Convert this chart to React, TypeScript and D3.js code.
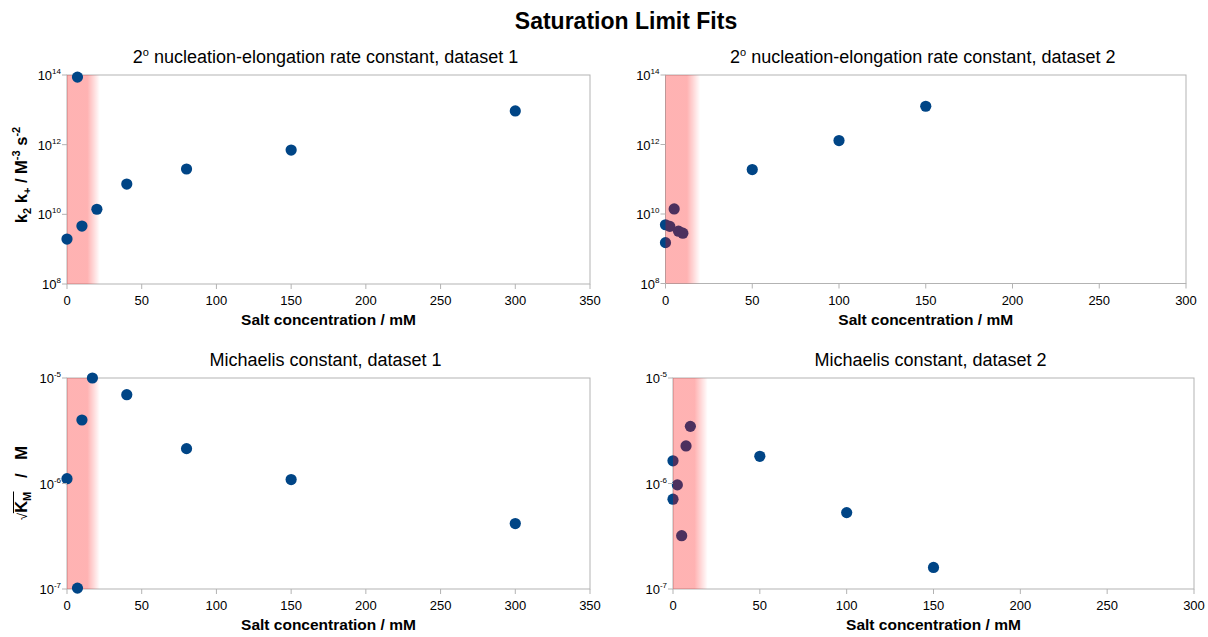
import React from "react";
import * as d3 from "d3";

const chartTitle = "Saturation Limit Fits";
const xAxisLabel = "Salt concentration / mM";

// Panel 1: rate constant, dataset 1
const salt1Rate = [0, 7, 10, 20, 40, 80, 150, 300];
const rate1 = [1.95e9, 8.7e13, 4.6e9, 1.4e10, 7.4e10, 2.0e11, 7.0e11, 9.3e12];
// Panel 2: rate constant, dataset 2
const salt2Rate = [0, 0, 2.5, 5, 7.5, 10, 50, 100, 150];
const rate2 = [4.9e9, 1.5e9, 4.4e9, 1.4e10, 3.2e9, 2.8e9, 1.9e11, 1.3e12, 1.26e13];
// Panel 3: Michaelis constant, dataset 1
const salt1Km = [0, 7, 10, 17, 40, 80, 150, 300];
const km1 = [1.11e-6, 1.02e-7, 4.0e-6, 1.0e-5, 6.95e-6, 2.14e-6, 1.09e-6, 4.17e-7];
// Panel 4: Michaelis constant, dataset 2
const salt2Km = [0, 0, 2.5, 5, 7.5, 10, 50, 100, 150];
const km2 = [1.64e-6, 7.1e-7, 9.7e-7, 3.2e-7, 2.27e-6, 3.48e-6, 1.81e-6, 5.3e-7, 1.6e-7];

const xTicks1 = [0, 50, 100, 150, 200, 250, 300, 350];
const xTicks2 = [0, 50, 100, 150, 200, 250, 300];
const yTicksRate = [1e8, 1e10, 1e12, 1e14];
const yTicksKm = [1e-7, 1e-6, 1e-5];

const FONT = "'Liberation Sans', Arial, sans-serif";
const POINT = "#004586";
const GRID = "#b3b3b3";

type Panel = {
  title: string;
  dataset: string;
  xs: number[];
  ys: number[];
  xDomain: [number, number];
  xTicks: number[];
  yDomain: [number, number];
  yTicks: number[];
  band: number;
  bandOnTop: boolean;
  box: { l: number; r: number; t: number; b: number };
  yLabel: "rate" | "km" | null;
};

const panels: Panel[] = [
  { title: "nucleation-elongation rate constant, dataset 1", dataset: "rate", xs: salt1Rate, ys: rate1, xDomain: [0, 350], xTicks: xTicks1, yDomain: [1e8, 1e14], yTicks: yTicksRate, band: 22, bandOnTop: false, box: { l: 67, r: 590, t: 75, b: 284 }, yLabel: "rate" },
  { title: "nucleation-elongation rate constant, dataset 2", dataset: "rate", xs: salt2Rate, ys: rate2, xDomain: [0, 300], xTicks: xTicks2, yDomain: [1e8, 1e14], yTicks: yTicksRate, band: 20, bandOnTop: true, box: { l: 665.5, r: 1186, t: 75, b: 283.5 }, yLabel: null },
  { title: "Michaelis constant, dataset 1", dataset: "km", xs: salt1Km, ys: km1, xDomain: [0, 350], xTicks: xTicks1, yDomain: [1e-7, 1e-5], yTicks: yTicksKm, band: 22, bandOnTop: false, box: { l: 67, r: 590, t: 378, b: 589 }, yLabel: "km" },
  { title: "Michaelis constant, dataset 2", dataset: "km", xs: salt2Km, ys: km2, xDomain: [0, 300], xTicks: xTicks2, yDomain: [1e-7, 1e-5], yTicks: yTicksKm, band: 20, bandOnTop: true, box: { l: 673, r: 1194, t: 378, b: 589 }, yLabel: null },
];

function PanelView({ p, idx }: { p: Panel; idx: number }) {
  const x = d3.scaleLinear().domain(p.xDomain).range([p.box.l, p.box.r]);
  const y = d3.scaleLog().domain(p.yDomain).range([p.box.b, p.box.t]);
  const gid = `band${idx}`;
  const band = (
    <rect
      x={x(0)}
      y={p.box.t}
      width={x(p.band) - x(0)}
      height={p.box.b - p.box.t}
      fill={`url(#${gid})`}
    />
  );
  const points = p.xs.map((xv, i) => (
    <circle key={i} cx={x(xv)} cy={y(p.ys[i])} r={5.6} fill={POINT} />
  ));
  const cx = (p.box.l + p.box.r) / 2;
  const isRate = p.dataset === "rate";
  return (
    <g>
      <defs>
        <linearGradient id={gid} x1="0" x2="1" y1="0" y2="0">
          <stop offset="0" stopColor="rgb(255,0,0)" stopOpacity={0.3} />
          <stop offset="0.62" stopColor="rgb(255,0,0)" stopOpacity={0.3} />
          <stop offset="1" stopColor="rgb(255,0,0)" stopOpacity={0} />
        </linearGradient>
      </defs>
      <rect x={p.box.l} y={p.box.t} width={p.box.r - p.box.l} height={p.box.b - p.box.t} fill="none" stroke={GRID} strokeWidth={1} />
      {!p.bandOnTop && band}
      {points}
      {p.bandOnTop && band}
      {p.xTicks.map((t) => (
        <g key={t}>
          <line x1={x(t)} x2={x(t)} y1={p.box.b} y2={p.box.b + 5} stroke={GRID} />
          <text x={x(t)} y={p.box.b + 21} textAnchor="middle" fontSize={13} fill="#000">{t}</text>
        </g>
      ))}
      {p.yTicks.map((t) => {
        const e = Math.round(Math.log10(t));
        return (
          <g key={t}>
            <line x1={p.box.l - 5} x2={p.box.l} y1={y(t)} y2={y(t)} stroke={GRID} />
            <text x={p.box.l - 6} y={y(t) + 5} textAnchor="end" fontSize={13} fill="#000">
              10<tspan fontSize={8} dy={-6}>{e}</tspan>
            </text>
          </g>
        );
      })}
      <text x={cx - 3} y={p.box.t - 12} textAnchor="middle" fontSize={18} fill="#000">
        {isRate ? <><tspan>2</tspan><tspan fontSize={11} dy={-7}>o</tspan><tspan dy={7}>{" " + p.title}</tspan></> : p.title}
      </text>
      <text x={cx} y={p.box.b + 41} textAnchor="middle" fontSize={15.5} fontWeight="bold" fill="#000">{xAxisLabel}</text>
      {p.yLabel === "rate" && (
        <text transform={`translate(27, 175) rotate(-90)`} textAnchor="middle" fontSize={16.5} fontWeight="bold" fill="#000">
          k<tspan fontSize={11} dy={4}>2</tspan><tspan dy={-4}> k</tspan><tspan fontSize={11} dy={4}>+</tspan><tspan dy={-4}> / M</tspan><tspan fontSize={11} dy={-7}>-3</tspan><tspan dy={7}> s</tspan><tspan fontSize={11} dy={-7}>-2</tspan>
        </text>
      )}
      {p.yLabel === "km" && (
        <g transform={`translate(27, 483) rotate(-90)`}>
          <text x={-37} y={0} fontSize={16.5} fill="#000" style={{ whiteSpace: "pre" }}>
            <tspan fontSize={13}>√</tspan><tspan fontWeight="bold">K</tspan><tspan fontWeight="bold" fontSize={11} dy={4}>M</tspan><tspan fontWeight="bold" dy={-4}>{"   /   M"}</tspan>
          </text>
          <line x1={-30.2} x2={-8.5} y1={-13.5} y2={-13.5} stroke="#000" strokeWidth={1} />
        </g>
      )}
    </g>
  );
}

export default function App() {
  return (
    <svg width={1208} height={637} style={{ position: "absolute", left: 0, top: 0, fontFamily: FONT, background: "#fff" }}>
      <rect x={0} y={0} width={1208} height={637} fill="#fff" />
      <text x={626} y={29} textAnchor="middle" fontSize={23} fontWeight="bold" fill="#000">{chartTitle}</text>
      {panels.map((p, i) => (
        <PanelView key={i} p={p} idx={i} />
      ))}
    </svg>
  );
}
